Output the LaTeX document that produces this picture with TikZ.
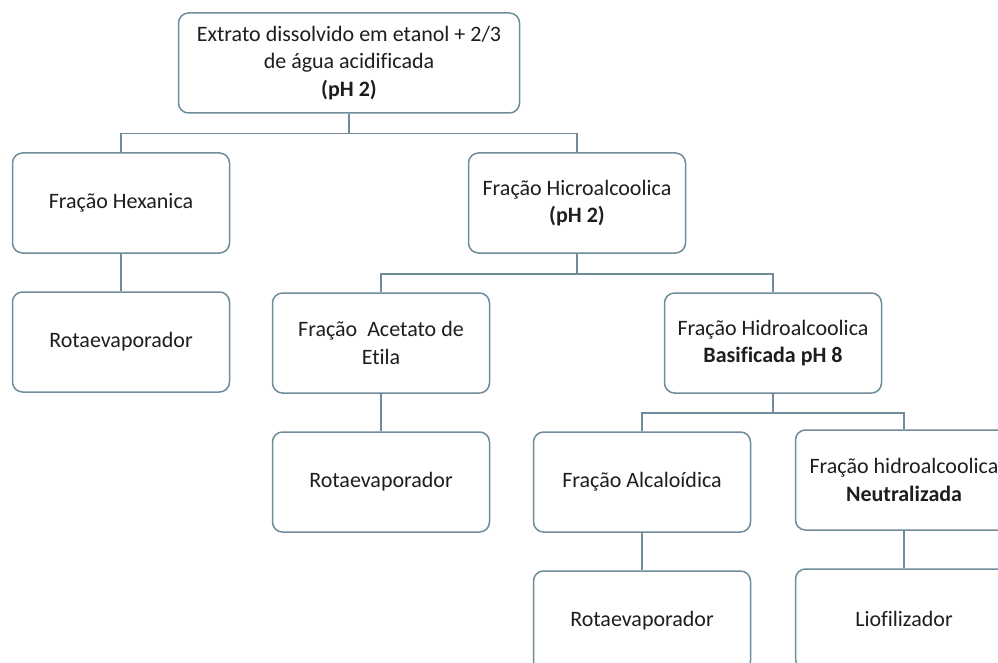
\documentclass[tikz,border=0pt]{standalone}
\usepackage{fontspec}
\setmainfont{Carlito}[Ligatures=NoCommon]
\usetikzlibrary{positioning}

\definecolor{borda}{RGB}{112,140,155}
\definecolor{texto}{RGB}{30,30,30}

\begin{document}
\begin{tikzpicture}[x=1pt, y=1pt, thick, node distance=139pt]
		\tikzstyle{caixa}=[draw=borda,line width=1.5pt,rounded corners=10pt,fill=white,text=texto,align=center,minimum width=217pt,minimum height=100pt,font=\fontsize{22}{27.5}\selectfont]
		\tikzstyle{linha}=[draw=borda,line width=1.5pt]
		\useasboundingbox (0,0) rectangle (998,-663);
		\node[caixa,minimum width=341pt] (top) at (349,-63) {Extrato dissolvido em etanol + 2/3\\de água acidificada\\\textbf{(pH 2)}};
		\node[caixa]    (hex)   at (121,-203)     {Fração Hexanica};
		\node[caixa]    (hicro) at (577,-203)     {Fração Hicroalcoolica\\\textbf{(pH 2)}};
		\node[caixa]    (rota1) [below of=hex]    {Rotaevaporador};
		\node[caixa]    (acet)  at (381,-343)     {Fração~ Acetato de\\Etila};
		\node[caixa]    (basif) at (773,-343)     {Fração Hidroalcoolica\\\textbf{Basificada pH 8}};
		\node[caixa]    (rota2) [below of=acet]   {Rotaevaporador};
		\node[caixa]    (alca)  at (642,-482)     {Fração Alcaloídica};
		\node[caixa]    (neut)  at (904,-480)     {Fração hidroalcoolica\\\textbf{Neutralizada}};
		\node[caixa]    (rota3) [below of=alca]   {Rotaevaporador};
		\node[caixa]    (lio)   [below of=neut]   {Liofilizador};
		\draw[linha] (top.south) -- ++(0,-20) -| (hex.north);
		\draw[linha] (top.south) -- ++(0,-20) -| (hicro.north);
		\draw[linha] (hex) -- (rota1);
		\draw[linha] (hicro.south) -- ++(0,-20) -| (acet.north);
		\draw[linha] (hicro.south) -- ++(0,-20) -| (basif.north);
		\draw[linha] (acet) -- (rota2);
		\draw[linha] (basif.south) -- ++(0,-19) -| (alca.north);
		\draw[linha] (basif.south) -- ++(0,-19) -| (neut.north);
		\draw[linha] (alca) -- (rota3);
		\draw[linha] (neut) -- (lio);
	\end{tikzpicture}
\end{document}
